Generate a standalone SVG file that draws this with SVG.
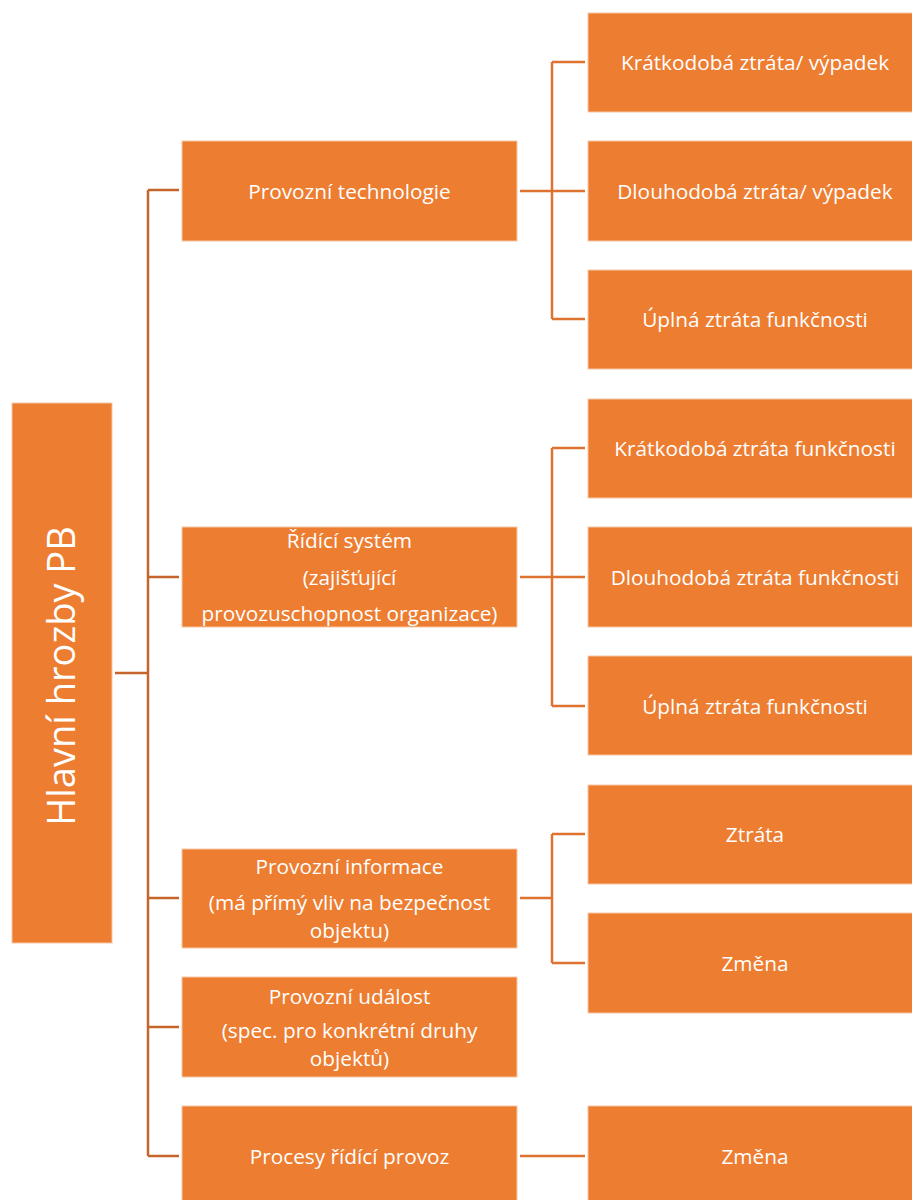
<svg xmlns="http://www.w3.org/2000/svg" width="912" height="1200" viewBox="0 0 912 1200">
  <style>
    .box { fill: #ED7D31; stroke: #F6C7A6; stroke-width: 1; }
    .t { fill: #FFFFFF; font-family: "Open Sans", "Liberation Sans", sans-serif; font-size: 20.8px; text-anchor: middle; dominant-baseline: central; }
    .root { fill: #FFFFFF; font-family: "Open Sans", "Liberation Sans", sans-serif; font-size: 38px; text-anchor: middle; }
    .cl { fill: none; stroke: #C5652B; stroke-width: 2.5; }
    .cr { fill: none; stroke: #DE7330; stroke-width: 2.5; }
  </style>
  <rect width="912" height="1200" fill="#FFFFFF"/>

  <!-- connectors -->
  <g id="connectors">
    <path class="cl" d="M115 673 H148 M148 190 V1156 M148 190 H179 M148 577 H179 M148 898 H179 M148 1027 H179 M148 1156 H179"/>
    <path class="cr" d="M520 191 H552 M552 62 V319 M552 62 H585 M552 191 H585 M552 319 H585"/>
    <path class="cr" d="M520 577 H552 M552 448 V706 M552 448 H585 M552 577 H585 M552 706 H585"/>
    <path class="cr" d="M520 898 H552 M552 834 V963 M552 834 H585 M552 963 H585"/>
    <path class="cr" d="M520 1156 H585"/>
  </g>

  <!-- root -->
  <g id="root">
    <rect class="box" x="12" y="403" width="100" height="540"/>
    <text class="root" transform="translate(75 676) rotate(-90)">Hlavní hrozby PB</text>
  </g>

  <!-- level 1 -->
  <g id="provozni-technologie">
    <rect class="box" x="182" y="141" width="335" height="100"/>
    <text class="t" x="349.5" y="191">Provozní technologie</text>
  </g>
  <g id="ridici-system">
    <rect class="box" x="182" y="527" width="335" height="100"/>
    <text class="t" x="349.5" y="540">Řídící systém</text>
    <text class="t" x="349.5" y="577">(zajišťující</text>
    <text class="t" x="349.5" y="613">provozuschopnost organizace)</text>
  </g>
  <g id="provozni-informace">
    <rect class="box" x="182" y="849" width="335" height="99"/>
    <text class="t" x="349.5" y="866">Provozní informace</text>
    <text class="t" x="349.5" y="902">(má přímý vliv na bezpečnost</text>
    <text class="t" x="349.5" y="930">objektu)</text>
  </g>
  <g id="provozni-udalost">
    <rect class="box" x="182" y="977" width="335" height="100"/>
    <text class="t" x="349.5" y="996">Provozní událost</text>
    <text class="t" x="349.5" y="1030">(spec. pro konkrétní druhy</text>
    <text class="t" x="349.5" y="1058">objektů)</text>
  </g>
  <g id="procesy">
    <rect class="box" x="182" y="1106" width="335" height="100"/>
    <text class="t" x="349.5" y="1156">Procesy řídící provoz</text>
  </g>

  <!-- level 2 -->
  <g id="tech-kratkodoba">
    <rect class="box" x="588" y="13" width="335" height="99"/>
    <text class="t" x="755" y="62">Krátkodobá ztráta/ výpadek</text>
  </g>
  <g id="tech-dlouhodoba">
    <rect class="box" x="588" y="141" width="335" height="100"/>
    <text class="t" x="755" y="191">Dlouhodobá ztráta/ výpadek</text>
  </g>
  <g id="tech-uplna">
    <rect class="box" x="588" y="270" width="335" height="99"/>
    <text class="t" x="755" y="319">Úplná ztráta funkčnosti</text>
  </g>
  <g id="sys-kratkodoba">
    <rect class="box" x="588" y="399" width="335" height="99"/>
    <text class="t" x="755" y="448">Krátkodobá ztráta funkčnosti</text>
  </g>
  <g id="sys-dlouhodoba">
    <rect class="box" x="588" y="527" width="335" height="100"/>
    <text class="t" x="755" y="577">Dlouhodobá ztráta funkčnosti</text>
  </g>
  <g id="sys-uplna">
    <rect class="box" x="588" y="656" width="335" height="99"/>
    <text class="t" x="755" y="706">Úplná ztráta funkčnosti</text>
  </g>
  <g id="info-ztrata">
    <rect class="box" x="588" y="785" width="335" height="99"/>
    <text class="t" x="755" y="834">Ztráta</text>
  </g>
  <g id="info-zmena">
    <rect class="box" x="588" y="913" width="335" height="100"/>
    <text class="t" x="755" y="963">Změna</text>
  </g>
  <g id="procesy-zmena">
    <rect class="box" x="588" y="1106" width="335" height="100"/>
    <text class="t" x="755" y="1156">Změna</text>
  </g>
</svg>
